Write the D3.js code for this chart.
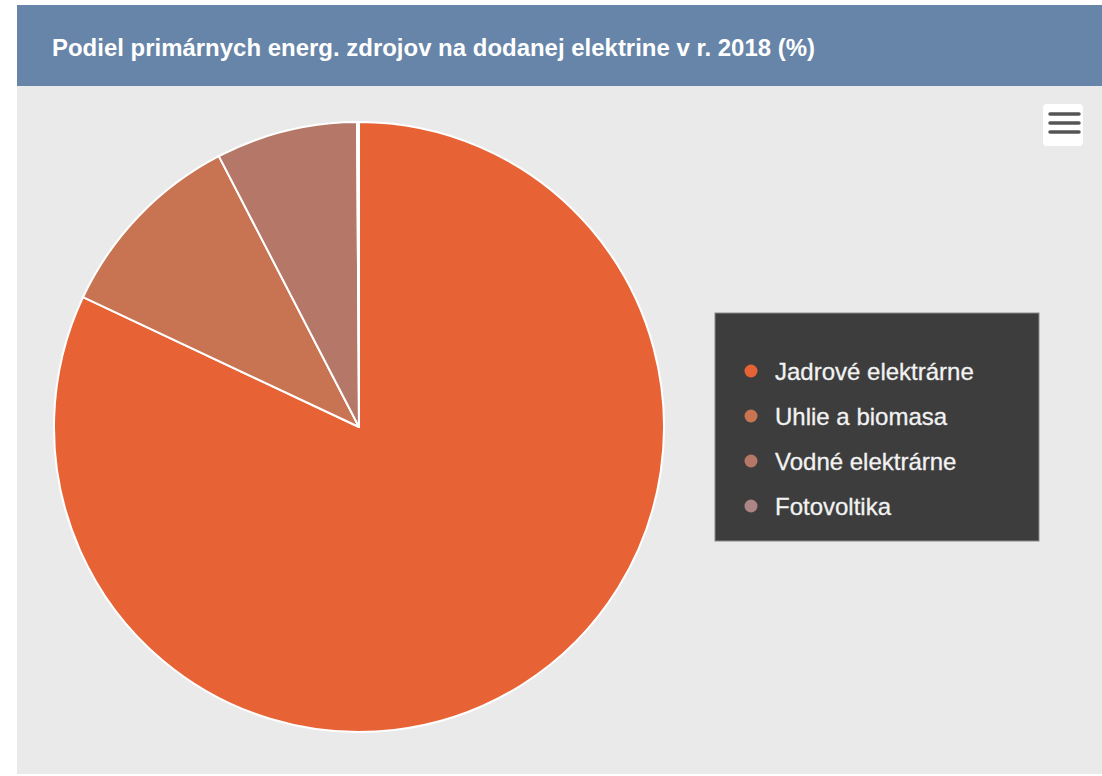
<!DOCTYPE html>
<html>
<head>
<meta charset="utf-8">
<script src="https://cdn.jsdelivr.net/npm/d3@7"></script>
<style>
  body { margin: 0; background: #fff; }
  svg { display: block; font-family: "Liberation Sans", Arial, sans-serif; }
</style>
</head>
<body>
<div id="chart"></div>
<script>
// data
const categories = ["Jadrové elektrárne", "Uhlie a biomasa", "Vodné elektrárne", "Fotovoltika"];
const shares = [82.0, 10.4, 7.5, 0.1];
const colors = ["#e76335", "#c87453", "#b57868", "#ae8585"];
const title = "Podiel primárnych energ. zdrojov na dodanej elektrine v r. 2018 (%)";

const width = 1102, height = 776;

const svg = d3.select("#chart")
  .append("svg")
  .attr("width", width)
  .attr("height", height);

// panel + header
svg.append("rect")
  .attr("x", 17).attr("y", 5)
  .attr("width", width - 17).attr("height", 769)
  .attr("fill", "#eaeaea");

svg.append("rect")
  .attr("x", 17).attr("y", 5)
  .attr("width", width - 17).attr("height", 81)
  .attr("fill", "#6785a8");

svg.append("text")
  .attr("x", 52).attr("y", 56)
  .attr("fill", "#fff")
  .attr("font-size", 24)
  .attr("font-weight", "bold")
  .attr("textLength", 763)
  .attr("lengthAdjust", "spacingAndGlyphs")
  .text(title);

// menu button
const menu = svg.append("g").attr("transform", "translate(1043,104)");
menu.append("rect")
  .attr("width", 40).attr("height", 42).attr("rx", 4)
  .attr("fill", "#fff");
[10, 19, 28].forEach(y => {
  menu.append("line")
    .attr("x1", 7).attr("x2", 36)
    .attr("y1", y).attr("y2", y)
    .attr("stroke", "#555")
    .attr("stroke-width", 3.5)
    .attr("stroke-linecap", "round");
});

// pie
const color = d3.scaleOrdinal().domain(categories).range(colors);
const pie = d3.pie().sort(null).value(d => d.v);
const arc = d3.arc().innerRadius(0).outerRadius(305);
const data = categories.map((c, i) => ({ c: c, v: shares[i] }));

svg.append("g")
  .attr("transform", "translate(359,427)")
  .selectAll("path")
  .data(pie(data))
  .join("path")
  .attr("d", arc)
  .attr("fill", d => color(d.data.c))
  .attr("stroke", "#fff")
  .attr("stroke-width", 2)
  .attr("stroke-linejoin", "round");

// legend
const legend = svg.append("g").attr("transform", "translate(715,313)");
legend.append("rect")
  .attr("width", 324).attr("height", 228)
  .attr("fill", "#3d3d3d")
  .attr("stroke", "#8a8a8a")
  .attr("stroke-width", 1);

const y = d3.scalePoint().domain(categories).range([58, 193]);

const item = legend.selectAll("g.item")
  .data(categories)
  .join("g")
  .attr("class", "item")
  .attr("transform", d => `translate(0,${y(d)})`);

item.append("circle")
  .attr("cx", 36).attr("cy", 0).attr("r", 6.5)
  .attr("fill", d => color(d));

item.append("text")
  .attr("x", 60).attr("y", 8.5)
  .attr("fill", "#f2f2f2")
  .attr("font-size", 24)
  .attr("stroke", "#f2f2f2")
  .attr("stroke-width", 0.3)
  .text(d => d);
</script>
</body>
</html>
